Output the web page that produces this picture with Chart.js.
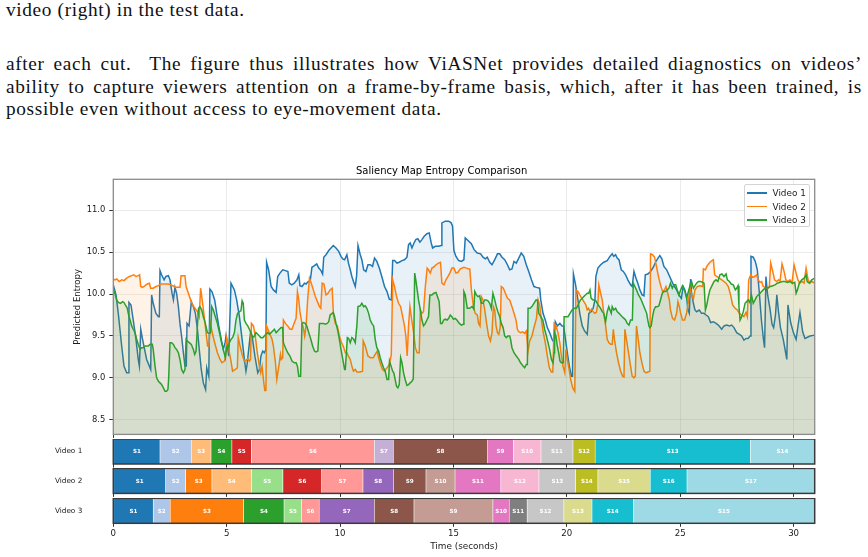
<!DOCTYPE html>
<html>
<head>
<meta charset="utf-8">
<title>Saliency Map Entropy Comparison</title>
<script src="https://cdn.jsdelivr.net/npm/chart.js@4.4.1/dist/chart.umd.min.js"></script>
<style>
	html, body { margin: 0; padding: 0; background: #fff; }
	#page { position: relative; width: 868px; height: 557px; overflow: hidden; }
	.txt { position: absolute; left: 6px; width: 856px; font-family: 'Liberation Serif', serif; font-size: 19.3px; letter-spacing: 0.65px; line-height: 22.5px; color: #111; white-space: nowrap; }
	.just { text-align: justify; text-align-last: justify; white-space: normal; }
	canvas { position: absolute; left: 0; }
	#legend { position: absolute; left: 744px; top: 184px; width: 66px; height: 43px; box-sizing: border-box; border: 1px solid #d4d4d4; border-radius: 2px; background: rgba(255,255,255,0.85); font-family: 'DejaVu Sans', sans-serif; font-size: 8.9px; color: #1a1a1a; }
	#legend .item { position: absolute; left: 0; height: 12px; line-height: 12px; }
	#legend .swatch { position: absolute; left: 2px; top: 5.25px; width: 20px; height: 1.5px; }
	#legend .name { position: absolute; left: 27.5px; top: 0; white-space: nowrap; }
</style>
</head>
<body>
<div id="page">
	<div class="txt" style="top:-1px">video (right) in the test data.</div>
	<div class="txt just" style="top:53px">after each cut.&nbsp; The figure thus illustrates how ViASNet provides detailed diagnostics on videos’</div>
	<div class="txt just" style="top:75.5px">ability to capture viewers attention on a frame-by-frame basis, which, after it has been trained, is</div>
	<div class="txt" style="top:98px">possible even without access to eye-movement data.</div>

	<canvas id="mainChart" width="868" height="280" style="top:160px"></canvas>
	<div id="legend"></div>
	<canvas id="row1" width="868" height="29" style="top:439px"></canvas>
	<canvas id="row2" width="868" height="29" style="top:468px"></canvas>
	<canvas id="row3" width="868" height="59" style="top:498px"></canvas>
</div>
<script>
// 数据：时间 (秒) 与预测熵
const videoNames = ['Video 1', 'Video 2', 'Video 3'];
const timeMax = 30.93;

const video1Points = [
	[0,10.11],[0.12,9.99],[0.22,9.77],[0.37,9.38],[0.47,9.14],[0.59,9.06],[0.66,9.06],[0.69,9.9],[0.78,9.87],[0.88,9.69],
	[1.0,9.46],[1.1,9.22],[1.15,9.14],[1.21,9.58],[1.29,9.46],[1.38,9.34],[1.47,9.22],[1.59,9.14],[1.65,9.1],[1.69,9.99],
	[1.76,9.89],[1.88,9.77],[1.99,9.73],[2.03,9.73],[2.06,10.28],[2.13,10.23],[2.24,10.17],[2.32,10.21],[2.43,10.22],[2.5,10.17],
	[2.59,10.01],[2.65,9.93],[2.72,10.08],[2.79,10.01],[2.87,9.85],[2.94,9.65],[3.01,9.5],[3.09,9.3],[3.16,9.14],[3.22,9.14],
	[3.25,9.65],[3.34,9.62],[3.38,9.62],[3.44,9.91],[3.53,9.85],[3.62,9.77],[3.71,9.58],[3.79,9.34],[3.88,9.1],[3.97,8.94],
	[4.07,8.86],[4.12,9.12],[4.21,9.02],[4.26,10.06],[4.35,10.03],[4.47,9.93],[4.56,9.77],[4.65,9.62],[4.76,9.46],[4.85,9.34],
	[4.93,9.42],[4.97,9.5],[5.09,9.26],[5.19,10.13],[5.34,10.05],[5.44,9.93],[5.56,9.73],[5.68,9.46],[5.78,9.22],[5.85,9.08],
	[5.9,9.16],[6.05,9.54],[6.12,9.5],[6.25,9.25],[6.37,9.06],[6.44,9.1],[6.51,9.26],[6.59,9.32],[6.66,9.3],[6.73,9.34],
	[6.76,10.38],[6.85,10.29],[6.96,10.09],[7.06,10.05],[7.18,10.02],[7.25,10.21],[7.35,10.25],[7.47,10.29],[7.59,10.28],[7.7,10.27],
	[7.76,10.13],[7.87,10.11],[7.98,10.13],[8.1,10.17],[8.18,10.23],[8.23,10.1],[8.32,10.09],[8.43,10.13],[8.5,10.12],[8.6,10.15],
	[8.68,10.15],[8.76,10.32],[8.87,10.34],[8.97,10.36],[9.06,10.31],[9.16,10.28],[9.23,10.24],[9.28,10.44],[9.38,10.47],[9.5,10.52],
	[9.6,10.55],[9.7,10.58],[9.82,10.55],[9.94,10.51],[10.04,10.45],[10.12,10.42],[10.2,10.41],[10.3,10.47],[10.37,10.37],[10.45,10.29],
	[10.52,10.21],[10.59,10.15],[10.67,10.09],[10.73,10.22],[10.79,10.58],[10.89,10.47],[10.96,10.41],[11.04,10.29],[11.14,10.27],[11.23,10.35],
	[11.33,10.35],[11.43,10.33],[11.52,10.43],[11.62,10.39],[11.73,10.31],[11.84,10.21],[11.96,10.09],[12.07,10.03],[12.17,9.94],[12.26,9.93],
	[12.32,10.4],[12.4,10.4],[12.51,10.37],[12.61,10.38],[12.73,10.4],[12.84,10.41],[12.95,10.44],[13.02,10.59],[13.09,10.61],[13.17,10.55],
	[13.26,10.61],[13.34,10.65],[13.43,10.66],[13.52,10.62],[13.61,10.65],[13.71,10.69],[13.83,10.72],[13.93,10.73],[14.02,10.61],[14.08,10.55],
	[14.2,10.57],[14.34,10.57],[14.46,10.58],[14.49,10.85],[14.64,10.87],[14.79,10.87],[14.9,10.85],[14.96,10.81],[15.02,10.52],[15.11,10.45],
	[15.23,10.4],[15.35,10.39],[15.46,10.41],[15.52,10.67],[15.64,10.64],[15.79,10.6],[15.91,10.53],[16.05,10.49],[16.2,10.48],[16.3,10.44],
	[16.41,10.42],[16.49,10.44],[16.6,10.38],[16.7,10.35],[16.82,10.41],[16.94,10.48],[17.04,10.48],[17.14,10.44],[17.26,10.41],[17.38,10.35],
	[17.48,10.29],[17.58,10.3],[17.67,10.39],[17.77,10.37],[17.88,10.43],[17.99,10.49],[18.1,10.45],[18.21,10.35],[18.32,10.27],[18.44,10.17],
	[18.55,10.09],[18.66,10.08],[18.8,10.07],[18.85,9.93],[18.95,9.77],[19.05,9.69],[19.14,9.6],[19.24,9.54],[19.35,9.46],[19.44,9.42],
	[19.49,9.67],[19.58,9.62],[19.69,9.65],[19.79,9.62],[19.86,9.62],[19.93,9.48],[20.02,9.3],[20.11,9.14],[20.2,9.02],[20.25,9.02],
	[20.29,10.24],[20.38,10.12],[20.49,9.93],[20.57,9.77],[20.68,9.62],[20.78,9.56],[20.9,9.52],[20.97,9.77],[21.07,9.79],[21.16,9.83],
	[21.24,9.93],[21.28,10.21],[21.37,10.31],[21.49,10.35],[21.63,10.38],[21.78,10.4],[21.9,10.45],[22.0,10.48],[22.07,10.45],[22.15,10.47],
	[22.22,10.43],[22.3,10.41],[22.4,10.29],[22.49,10.27],[22.59,10.23],[22.69,10.17],[22.81,10.11],[22.88,10.09],[22.96,10.27],[23.05,10.19],
	[23.13,10.13],[23.22,10.05],[23.32,9.99],[23.4,9.98],[23.46,10.23],[23.57,10.24],[23.69,10.27],[23.81,10.32],[23.91,10.38],[24.02,10.43],
	[24.1,10.46],[24.19,10.42],[24.28,10.33],[24.4,10.29],[24.5,10.23],[24.6,10.17],[24.72,10.1],[24.84,10.05],[24.94,9.99],[25.05,9.95],
	[25.13,10.09],[25.2,10.05],[25.28,9.97],[25.34,9.81],[25.4,9.77],[25.46,10.18],[25.5,10.01],[25.58,9.89],[25.65,9.81],[25.72,9.79],
	[25.84,9.81],[25.94,9.77],[26.05,9.77],[26.14,9.75],[26.24,9.73],[26.34,9.66],[26.46,9.67],[26.58,9.65],[26.68,9.63],[26.83,9.58],
	[26.93,9.62],[27.05,9.63],[27.17,9.62],[27.27,9.63],[27.37,9.6],[27.49,9.54],[27.61,9.52],[27.71,9.5],[27.81,9.45],[27.9,9.47],
	[27.99,9.47],[28.08,9.5],[28.12,10.45],[28.22,10.44],[28.31,10.39],[28.4,10.29],[28.49,10.01],[28.58,9.69],[28.67,9.46],[28.72,9.36],
	[28.78,10.21],[28.85,10.0],[28.96,9.82],[29.05,9.64],[29.12,9.6],[29.2,9.75],[29.26,9.99],[29.33,9.8],[29.42,9.6],[29.55,9.45],
	[29.7,9.22],[29.75,9.87],[29.87,9.66],[29.99,9.54],[30.11,9.46],[30.28,9.78],[30.4,9.55],[30.5,9.47],[30.72,9.5],[30.93,9.51]
];

const video2Points = [
	[0,10.18],[0.07,10.17],[0.15,10.18],[0.26,10.15],[0.37,10.17],[0.47,10.16],[0.59,10.19],[0.71,10.21],[0.81,10.22],[0.91,10.23],
	[1.0,10.21],[1.1,10.22],[1.16,10.23],[1.21,10.09],[1.29,10.08],[1.4,10.1],[1.5,10.12],[1.59,10.13],[1.65,10.07],[1.76,10.07],
	[1.88,10.09],[1.99,10.1],[2.09,10.12],[2.21,10.12],[2.32,10.12],[2.43,10.12],[2.53,10.11],[2.62,10.1],[2.72,10.08],[2.94,10.08],
	[2.99,10.22],[3.09,10.22],[3.16,10.22],[3.21,10.09],[3.31,10.01],[3.41,9.93],[3.5,9.87],[3.6,9.83],[3.71,9.79],[3.79,9.73],
	[3.85,10.07],[3.94,9.89],[4.01,9.73],[4.09,9.54],[4.16,9.38],[4.22,9.38],[4.28,9.65],[4.38,9.52],[4.49,9.4],[4.59,9.3],
	[4.71,9.22],[4.79,9.18],[4.9,9.2],[4.94,9.24],[5.0,9.48],[5.06,9.42],[5.12,9.3],[5.19,9.2],[5.26,9.08],[5.38,9.1],
	[5.47,9.12],[5.51,9.48],[5.59,9.38],[5.68,9.28],[5.78,9.2],[5.85,9.21],[5.93,9.23],[6.0,9.2],[6.05,9.22],[6.09,9.65],
	[6.18,9.62],[6.26,9.5],[6.35,9.3],[6.44,9.14],[6.5,9.06],[6.56,9.14],[6.62,8.98],[6.68,8.85],[6.73,8.85],[6.76,9.62],
	[6.85,9.56],[6.94,9.5],[7.0,9.46],[7.06,9.38],[7.15,9.18],[7.21,8.98],[7.26,9.07],[7.32,9.18],[7.37,9.28],[7.41,9.22],
	[7.47,9.24],[7.5,9.69],[7.59,9.65],[7.69,9.62],[7.79,9.58],[7.88,9.58],[7.97,9.65],[8.06,9.71],[8.12,10.03],[8.18,9.93],
	[8.23,9.79],[8.32,9.65],[8.38,9.6],[8.44,9.5],[8.5,9.62],[8.57,9.93],[8.65,10.19],[8.73,10.13],[8.82,10.05],[8.91,9.97],
	[9.0,9.91],[9.09,9.85],[9.15,9.83],[9.21,10.13],[9.29,10.12],[9.38,9.99],[9.47,10.01],[9.56,10.05],[9.65,10.07],[9.71,9.75],
	[9.79,9.65],[9.88,9.62],[9.97,9.5],[10.06,9.42],[10.15,9.37],[10.23,9.3],[10.3,9.3],[10.37,9.26],[10.45,9.22],[10.52,9.14],
	[10.59,9.08],[10.67,9.1],[10.74,9.07],[10.89,9.07],[10.99,9.08],[11.02,9.44],[11.11,9.38],[11.23,9.26],[11.34,9.24],[11.46,9.24],
	[11.55,9.28],[11.64,9.32],[11.7,9.24],[11.79,9.16],[11.87,9.1],[11.96,9.08],[12.07,9.12],[12.17,9.16],[12.26,9.28],[12.32,10.17],
	[12.4,10.09],[12.49,9.97],[12.58,9.89],[12.67,9.85],[12.76,9.73],[12.84,9.62],[12.9,9.5],[12.96,9.26],[13.02,9.62],[13.08,9.85],
	[13.14,9.73],[13.2,9.62],[13.26,9.5],[13.32,9.36],[13.4,9.3],[13.49,9.3],[13.54,9.81],[13.61,9.77],[13.68,9.79],[13.76,10.09],
	[13.84,10.31],[13.9,10.29],[13.98,10.25],[14.05,10.31],[14.12,10.32],[14.23,10.35],[14.34,10.37],[14.43,10.38],[14.49,10.13],[14.58,10.11],
	[14.67,10.17],[14.76,10.21],[14.84,10.25],[14.93,10.31],[15.02,10.31],[15.11,10.25],[15.2,10.26],[15.3,10.3],[15.46,10.32],[15.57,10.31],
	[15.67,10.3],[15.72,10.3],[15.79,10.05],[15.88,9.85],[15.96,9.77],[16.05,9.75],[16.11,9.65],[16.17,9.62],[16.23,9.97],[16.3,9.93],
	[16.38,9.81],[16.46,9.65],[16.55,9.5],[16.63,9.44],[16.7,9.54],[16.76,9.85],[16.82,9.81],[16.88,9.62],[16.94,9.54],[17.0,9.52],
	[17.06,9.6],[17.11,10.09],[17.2,10.07],[17.29,10.01],[17.38,9.95],[17.48,9.93],[17.58,9.85],[17.67,9.77],[17.76,9.69],[17.82,9.58],
	[17.88,9.55],[17.96,9.54],[18.05,9.55],[18.14,9.53],[18.21,9.56],[18.29,9.32],[18.36,9.44],[18.46,9.5],[18.55,9.6],[18.66,9.71],
	[18.73,9.93],[18.8,9.87],[18.88,9.69],[18.96,9.54],[19.05,9.42],[19.14,9.26],[19.23,9.12],[19.32,9.07],[19.38,9.07],[19.44,9.65],
	[19.52,9.62],[19.61,9.54],[19.69,9.42],[19.76,9.26],[19.83,9.14],[19.91,9.06],[19.96,9.34],[20.02,9.22],[20.1,9.1],[20.17,8.98],
	[20.26,8.88],[20.35,8.84],[20.4,10.05],[20.49,10.03],[20.57,9.99],[20.66,9.95],[20.75,9.91],[20.84,9.87],[20.9,9.81],[20.96,9.83],
	[21.02,9.79],[21.09,9.82],[21.16,9.79],[21.22,9.77],[21.3,9.78],[21.37,9.89],[21.41,10.11],[21.49,10.01],[21.56,9.93],[21.63,9.77],
	[21.71,9.62],[21.78,9.46],[21.85,9.42],[21.93,9.4],[22.0,9.4],[22.05,9.58],[22.1,9.46],[22.19,9.3],[22.28,9.18],[22.37,9.08],
	[22.46,9.02],[22.52,9.01],[22.56,9.58],[22.63,9.46],[22.72,9.3],[22.81,9.14],[22.88,9.02],[22.96,9.0],[23.02,9.02],[23.07,9.62],
	[23.15,9.46],[23.22,9.3],[23.31,9.18],[23.4,9.08],[23.49,9.06],[23.57,9.07],[23.66,9.08],[23.69,10.48],[23.78,10.47],[23.87,10.44],
	[23.96,10.32],[24.04,10.21],[24.13,10.11],[24.22,10.03],[24.31,10.05],[24.37,10.09],[24.43,10.03],[24.52,9.93],[24.57,9.81],[24.66,9.71],
	[24.75,9.69],[24.84,9.77],[24.9,9.91],[24.96,9.85],[25.02,9.77],[25.1,9.69],[25.19,9.69],[25.28,9.77],[25.37,9.93],[25.43,10.09],
	[25.5,9.99],[25.58,9.94],[25.65,10.05],[25.75,10.09],[25.87,10.1],[25.99,10.09],[26.02,10.3],[26.11,10.29],[26.19,10.34],[26.31,10.38],
	[26.4,10.4],[26.46,10.41],[26.52,10.23],[26.61,10.21],[26.72,10.19],[26.83,10.17],[26.93,10.15],[27.02,10.13],[27.12,10.09],[27.22,9.99],
	[27.31,9.87],[27.42,9.83],[27.52,9.81],[27.61,9.77],[27.71,9.75],[27.81,9.73],[27.9,9.78],[27.96,9.73],[28.02,10.17],[28.11,10.23],
	[28.19,10.2],[28.28,10.21],[28.37,10.23],[28.44,10.17],[28.52,10.14],[28.59,10.15],[28.66,10.09],[28.75,10.08],[28.84,10.07],[28.93,10.09],
	[28.99,10.37],[29.08,10.27],[29.16,10.17],[29.25,10.15],[29.34,10.17],[29.4,10.15],[29.49,10.36],[29.58,10.27],[29.66,10.17],[29.75,10.15],
	[29.84,10.17],[29.93,10.13],[30.02,10.35],[30.11,10.25],[30.19,10.17],[30.28,10.13],[30.37,10.15],[30.46,10.13],[30.55,10.31],[30.64,10.17],
	[30.72,10.13],[30.81,10.15],[30.93,10.13]
];

const video3Points = [
	[0,10.05],[0.07,10.01],[0.15,9.93],[0.22,9.9],[0.32,9.89],[0.41,9.91],[0.47,9.9],[0.53,9.87],[0.62,9.83],[0.66,9.77],
	[0.74,9.69],[0.81,9.62],[0.88,9.58],[0.96,9.54],[1.03,9.46],[1.1,9.4],[1.18,9.34],[1.25,9.36],[1.32,9.36],[1.4,9.38],
	[1.47,9.38],[1.54,9.38],[1.62,9.4],[1.72,9.4],[1.76,9.34],[1.84,9.14],[1.91,9.0],[1.99,8.96],[2.06,8.94],[2.13,8.92],
	[2.21,8.88],[2.28,8.84],[2.35,8.84],[2.41,8.86],[2.44,8.99],[2.5,9.42],[2.57,9.42],[2.65,9.4],[2.72,9.36],[2.79,9.34],
	[2.87,9.3],[2.94,9.22],[3.01,9.1],[3.09,9.06],[3.16,9.1],[3.21,9.46],[3.26,9.44],[3.35,9.42],[3.44,9.4],[3.53,9.34],
	[3.59,9.28],[3.65,9.32],[3.71,9.62],[3.76,9.83],[3.82,9.85],[3.9,9.81],[3.97,9.73],[4.06,9.65],[4.15,9.54],[4.24,9.53],
	[4.29,9.54],[4.34,9.85],[4.41,9.81],[4.5,9.73],[4.59,9.65],[4.68,9.54],[4.76,9.44],[4.85,9.34],[4.94,9.24],[5.0,9.36],
	[5.04,9.34],[5.12,9.42],[5.19,9.46],[5.26,9.48],[5.34,9.54],[5.41,9.69],[5.48,9.77],[5.56,9.79],[5.63,9.8],[5.68,9.92],
	[5.73,9.89],[5.78,9.69],[5.85,9.65],[5.93,9.62],[6.0,9.58],[6.07,9.54],[6.15,9.48],[6.22,9.5],[6.29,9.54],[6.37,9.52],
	[6.44,9.5],[6.51,9.48],[6.59,9.48],[6.66,9.5],[6.73,9.52],[6.81,9.54],[6.88,9.52],[6.96,9.54],[7.03,9.56],[7.1,9.58],
	[7.18,9.54],[7.25,9.56],[7.32,9.58],[7.4,9.6],[7.47,9.6],[7.5,9.42],[7.59,9.36],[7.69,9.3],[7.79,9.26],[7.88,9.2],
	[7.98,9.18],[8.06,9.18],[8.12,9.14],[8.18,9.02],[8.26,9.02],[8.32,9.65],[8.38,9.66],[8.46,9.65],[8.53,9.62],[8.62,9.54],
	[8.71,9.46],[8.79,9.38],[8.87,9.32],[8.94,9.31],[9.02,9.32],[9.09,9.65],[9.18,9.65],[9.26,9.65],[9.35,9.64],[9.43,9.65],
	[9.5,9.67],[9.56,9.75],[9.65,9.77],[9.7,9.78],[9.76,9.73],[9.82,9.65],[9.9,9.56],[9.97,9.46],[10.04,9.34],[10.12,9.22],
	[10.2,9.1],[10.23,9.1],[10.27,9.26],[10.32,9.48],[10.38,9.47],[10.45,9.42],[10.52,9.48],[10.6,9.46],[10.67,9.42],[10.74,9.62],
	[10.79,9.85],[10.89,9.86],[10.96,9.89],[11.04,9.85],[11.11,9.86],[11.18,9.83],[11.26,9.77],[11.33,9.69],[11.4,9.65],[11.48,9.62],
	[11.55,9.46],[11.62,9.36],[11.7,9.32],[11.77,9.24],[11.84,9.18],[11.92,9.12],[11.99,9.08],[12.07,8.98],[12.14,8.98],[12.18,9.2],
	[12.25,9.14],[12.32,9.08],[12.37,9.06],[12.43,8.98],[12.49,8.9],[12.55,8.88],[12.61,8.92],[12.67,9.24],[12.73,9.18],[12.8,9.06],
	[12.87,8.98],[12.95,8.91],[13.02,8.92],[13.09,8.94],[13.17,8.96],[13.23,8.99],[13.29,10.25],[13.34,10.17],[13.4,10.05],[13.46,9.93],
	[13.54,9.81],[13.61,9.69],[13.68,9.62],[13.76,9.65],[13.83,9.69],[13.9,9.73],[13.96,9.99],[14.05,9.99],[14.14,10.01],[14.23,10.02],
	[14.32,9.95],[14.37,9.91],[14.43,9.65],[14.5,9.65],[14.57,9.69],[14.64,9.7],[14.72,9.69],[14.79,9.71],[14.86,9.75],[14.93,9.73],
	[15.0,9.7],[15.08,9.71],[15.15,9.69],[15.26,9.65],[15.35,9.63],[15.43,9.64],[15.46,10.03],[15.52,9.99],[15.61,9.83],[15.71,9.83],
	[15.82,9.85],[15.9,9.82],[15.94,10.03],[16.01,9.99],[16.08,9.97],[16.15,9.98],[16.23,9.89],[16.3,9.89],[16.38,9.93],[16.45,9.93],
	[16.52,9.92],[16.6,9.89],[16.67,9.83],[16.74,10.01],[16.82,9.93],[16.89,9.85],[16.96,9.79],[17.04,9.73],[17.11,9.65],[17.19,9.6],
	[17.26,9.5],[17.33,9.48],[17.4,9.5],[17.48,9.5],[17.52,9.46],[17.58,9.36],[17.67,9.3],[17.77,9.26],[17.88,9.22],[17.96,9.18],
	[18.07,9.14],[18.14,9.12],[18.21,9.16],[18.26,9.16],[18.29,9.83],[18.38,9.83],[18.46,9.85],[18.55,9.89],[18.64,9.93],[18.7,9.93],
	[18.76,9.77],[18.85,9.73],[18.94,9.69],[19.02,9.58],[19.1,9.5],[19.17,9.42],[19.24,9.34],[19.32,9.22],[19.39,9.18],[19.44,9.3],
	[19.46,9.54],[19.52,9.5],[19.58,9.38],[19.64,9.3],[19.7,9.2],[19.76,9.18],[19.84,9.18],[19.88,9.73],[19.96,9.73],[20.05,9.73],
	[20.14,9.77],[20.23,9.81],[20.32,9.83],[20.42,9.83],[20.46,9.85],[20.53,9.89],[20.6,9.93],[20.68,9.95],[20.75,9.97],[20.82,9.99],
	[20.9,10.01],[20.96,10.01],[21.02,10.05],[21.07,9.95],[21.16,9.93],[21.22,9.93],[21.28,9.92],[21.34,9.89],[21.41,9.86],[21.49,9.83],
	[21.56,9.79],[21.63,9.77],[21.71,9.67],[21.78,9.79],[21.85,9.85],[21.93,9.79],[21.96,9.77],[22.0,9.85],[22.07,9.81],[22.15,9.83],
	[22.22,9.79],[22.3,9.77],[22.37,9.75],[22.44,9.73],[22.52,9.71],[22.59,9.69],[22.66,9.65],[22.74,9.63],[22.81,9.69],[22.89,9.69],
	[22.93,10.13],[23.0,10.09],[23.07,10.05],[23.16,9.99],[23.25,9.95],[23.34,9.89],[23.43,9.83],[23.52,9.77],[23.57,9.69],[23.62,9.62],
	[23.66,9.6],[23.72,9.62],[23.78,9.73],[23.84,9.81],[23.91,9.85],[23.99,9.85],[24.06,9.86],[24.13,9.93],[24.21,10.01],[24.28,10.03],
	[24.35,10.03],[24.43,10.05],[24.5,10.07],[24.57,10.13],[24.65,10.07],[24.72,10.11],[24.8,10.11],[24.87,10.05],[24.94,9.99],[25.02,10.05],
	[25.1,10.1],[25.19,10.05],[25.28,9.95],[25.34,10.01],[25.43,10.1],[25.5,10.15],[25.58,10.07],[25.65,10.1],[25.72,10.13],[25.8,10.15],
	[25.9,10.15],[25.99,10.14],[26.05,10.13],[26.11,9.81],[26.17,9.87],[26.24,9.97],[26.31,10.05],[26.4,10.1],[26.49,10.15],[26.58,10.17],
	[26.66,10.15],[26.75,10.23],[26.84,10.24],[26.93,10.21],[27.02,10.24],[27.08,10.17],[27.17,10.15],[27.25,10.12],[27.34,10.11],[27.43,10.05],
	[27.49,10.07],[27.55,10.1],[27.59,9.85],[27.64,9.69],[27.71,9.73],[27.78,9.79],[27.86,9.89],[27.93,9.91],[28.0,9.93],[28.07,9.9],
	[28.14,9.99],[28.22,9.89],[28.3,9.93],[28.37,9.97],[28.44,9.99],[28.52,10.01],[28.59,10.03],[28.66,10.05],[28.78,10.08],[28.87,10.07],
	[28.96,10.09],[29.08,10.1],[29.18,10.11],[29.28,10.13],[29.4,10.14],[29.51,10.15],[29.62,10.15],[29.73,10.14],[29.84,10.15],[29.96,10.13],
	[30.05,10.14],[30.11,10.01],[30.17,10.05],[30.25,10.13],[30.36,10.17],[30.46,10.19],[30.55,10.23],[30.6,10.15],[30.69,10.13],[30.8,10.17],
	[30.93,10.19]
];

// 场景切换时间 (秒)
const video1Cuts = [2.06, 3.44, 4.31, 5.23, 6.09, 11.51, 12.35, 16.51, 17.64, 18.86, 20.27, 21.25, 28.09];
const video2Cuts = [2.31, 3.19, 4.35, 6.1, 7.48, 9.19, 11.01, 12.35, 13.79, 15.07, 17.09, 18.77, 20.39, 21.37, 23.68, 25.3];
const video3Cuts = [1.76, 2.51, 5.75, 7.53, 8.31, 9.08, 11.51, 13.26, 16.74, 17.46, 18.25, 19.87, 21.11, 22.93];

const yTicks = [8.5, 9.0, 9.5, 10.0, 10.5, 11.0];
const xTicks = [0, 5, 10, 15, 20, 25, 30];

// 样式
const lineColors = ['#1f77b4', '#ff7f0e', '#2ca02c'];
const fillColors = ['rgba(31,119,180,0.1)', 'rgba(255,127,14,0.1)', 'rgba(44,160,44,0.1)'];
const tab20 = ['#1f77b4','#aec7e8','#ff7f0e','#ffbb78','#2ca02c','#98df8a','#d62728','#ff9896','#9467bd','#c5b0d5',
	'#8c564b','#c49c94','#e377c2','#f7b6d2','#7f7f7f','#c7c7c7','#bcbd22','#dbdb8d','#17becf','#9edae5'];
const plotLeft = 113.3, plotRight = 814.7;
const textColor = '#1a1a1a';

Chart.defaults.font.family = 'DejaVu Sans';
Chart.defaults.color = textColor;

// 画坐标区边框
function framePlugin(color, width) {
	return {
		id: 'frame',
		afterDraw(chart) {
			const a = chart.chartArea;
			const ctx = chart.ctx;
			ctx.save();
			ctx.strokeStyle = color;
			ctx.lineWidth = width;
			ctx.strokeRect(a.left, a.top, a.right - a.left, a.bottom - a.top);
			ctx.restore();
		}
	};
}

// 片段标签 S1, S2, ...
const segmentLabels = {
	id: 'segmentLabels',
	afterDatasetsDraw(chart) {
		const ctx = chart.ctx;
		ctx.save();
		ctx.fillStyle = '#ffffff';
		ctx.font = 'bold 5.6px "DejaVu Sans"';
		ctx.textAlign = 'center';
		ctx.textBaseline = 'middle';
		chart.getDatasetMeta(0).data.forEach((bar, i) => {
			const c = bar.getCenterPoint();
			ctx.fillText('S' + (i + 1), c.x, c.y + 0.5);
		});
		ctx.restore();
	}
};

// 固定坐标轴尺寸，去掉标签溢出留白
function fixWidth(w) {
	return s => { s.width = w; s.paddingTop = 0; s.paddingBottom = 0; };
}
function fixHeight(h) {
	return s => { s.height = h; s.paddingLeft = 0; s.paddingRight = 0; };
}

function toXY(points) {
	return points.map(p => ({ x: p[0], y: p[1] }));
}

const seriesPoints = [video1Points, video2Points, video3Points];

// 主图：熵曲线
const mainChart = new Chart(document.getElementById('mainChart'), {
	type: 'line',
	data: {
		datasets: seriesPoints.map((pts, i) => ({
			label: videoNames[i],
			data: toXY(pts),
			borderColor: lineColors[i],
			backgroundColor: fillColors[i],
			borderWidth: 1.5,
			pointRadius: 0,
			tension: 0,
			fill: 'start',
			order: 3 - i
		}))
	},
	options: {
		responsive: false,
		animation: false,
		events: [],
		layout: { padding: { left: 68.6, right: 868 - plotRight, top: 0, bottom: 0 } },
		plugins: {
			legend: { display: false },
			tooltip: { enabled: false },
			title: {
				display: true,
				text: 'Saliency Map Entropy Comparison',
				color: '#000',
				font: { size: 10, weight: 'normal' },
				padding: { top: 5.5, bottom: 1.8 }
			}
		},
		scales: {
			x: {
				type: 'linear',
				min: 0,
				max: timeMax,
				afterBuildTicks: s => { s.ticks = xTicks.map(v => ({ value: v })); },
				ticks: { display: false },
				grid: { color: 'rgba(0,0,0,0.1)', lineWidth: 0.8, drawTicks: true, tickLength: 3.5, tickColor: '#333', tickWidth: 1 },
				border: { display: false },
				afterFit: fixHeight(5.6)
			},
			y: {
				min: 8.325,
				max: 11.37,
				afterBuildTicks: s => { s.ticks = yTicks.map(v => ({ value: v })); },
				ticks: { callback: v => v.toFixed(1), font: { size: 8.4 }, color: textColor, padding: 4 },
				grid: { color: 'rgba(0,0,0,0.1)', lineWidth: 0.8, drawTicks: true, tickLength: 4, tickColor: '#333', tickWidth: 1 },
				border: { display: false },
				title: { display: true, text: 'Predicted Entropy', font: { size: 8.5 }, color: textColor, padding: { top: 4, bottom: 0 } },
				afterFit: fixWidth(plotLeft - 68.6)
			}
		}
	},
	plugins: [framePlugin('#8a8a8a', 1.3)]
});

// 图例
const legendEl = document.getElementById('legend');
mainChart.data.datasets.forEach((ds, i) => {
	const item = document.createElement('div');
	item.className = 'item';
	item.style.top = (2 + i * 13.6) + 'px';
	item.innerHTML = '<span class="swatch" style="background:' + ds.borderColor + '"></span><span class="name">' + ds.label + '</span>';
	legendEl.appendChild(item);
});

// 片段条
function makeRow(canvasId, name, cuts, padTop, bottom) {
	const bounds = [0].concat(cuts, [timeMax]);
	const n = bounds.length - 1;
	const segs = [];
	const colors = [];
	for (let i = 0; i < n; i++) {
		segs.push({ x: [bounds[i], bounds[i + 1]], y: name });
		colors.push(tab20[Math.min(19, Math.floor(i / (n - 1) * 20))]);
	}
	const el = document.getElementById(canvasId);
	const axisH = el.height - padTop - 25;
	return new Chart(el, {
		type: 'bar',
		data: {
			labels: [name],
			datasets: [{
				data: segs,
				backgroundColor: colors,
				borderColor: 'rgba(255,255,255,0.75)',
				borderWidth: { left: 0.6, right: 0.6, top: 0, bottom: 0 },
				borderSkipped: false,
				barPercentage: 1,
				categoryPercentage: 1
			}]
		},
		options: {
			indexAxis: 'y',
			responsive: false,
			animation: false,
			events: [],
			layout: { padding: { left: 0, right: 868 - plotRight, top: padTop, bottom: 0 } },
			plugins: { legend: { display: false }, tooltip: { enabled: false } },
			scales: {
				x: {
					type: 'linear',
					min: 0,
					max: timeMax,
					afterBuildTicks: s => { s.ticks = xTicks.map(v => ({ value: v })); },
					ticks: { display: bottom, font: { size: 8.6 }, color: textColor, padding: 1.5 },
					grid: { drawOnChartArea: false, drawTicks: true, tickLength: 3.5, tickColor: '#333', tickWidth: 1 },
					border: { display: false },
					title: { display: bottom, text: 'Time (seconds)', font: { size: 8.9 }, color: textColor, padding: { top: 0, bottom: 4.6 } },
					afterFit: fixHeight(axisH)
				},
				y: {
					ticks: { font: { size: 7.3 }, color: textColor, padding: 31 },
					grid: { display: false, drawTicks: false },
					border: { display: false },
					afterFit: fixWidth(plotLeft)
				}
			}
		},
		plugins: [segmentLabels, framePlugin('#3a3a3a', 1.5)]
	});
}

makeRow('row1', videoNames[0], video1Cuts, 0, false);
makeRow('row2', videoNames[1], video2Cuts, 0.4, false);
makeRow('row3', videoNames[2], video3Cuts, 0.3, true);
</script>
</body>
</html>
